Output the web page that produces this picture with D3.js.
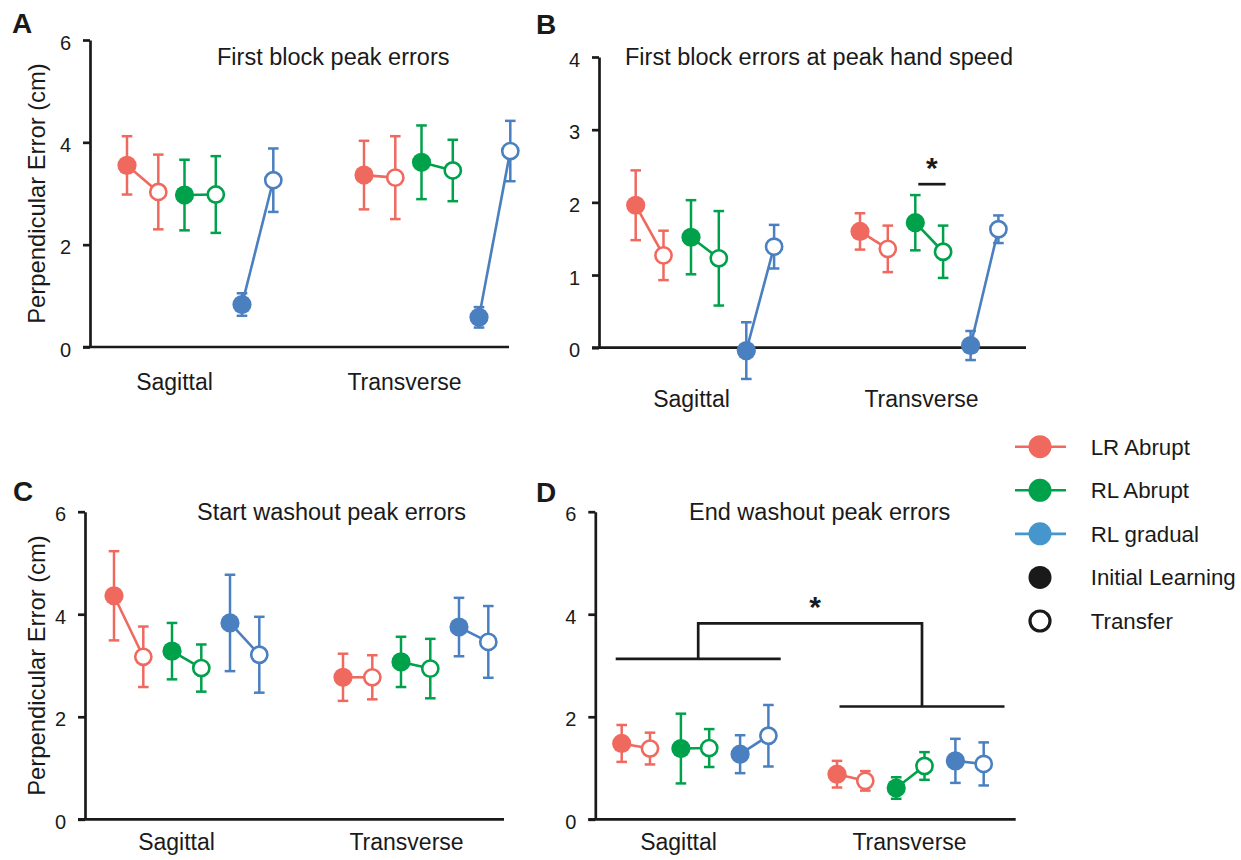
<!DOCTYPE html>
<html>
<head>
<meta charset="utf-8">
<script src="https://cdn.jsdelivr.net/npm/d3@7"></script>
<style>
  body { margin: 0; background: #fff; }
  svg { font-family: "Liberation Sans", Arial, sans-serif; }
</style>
</head>
<body>
<svg width="1241" height="860"></svg>
<script>
const categories = ['Sagittal', 'Transverse'];
const groups = ['LR Abrupt', 'RL Abrupt', 'RL gradual'];
const phases = ['Initial Learning', 'Transfer'];

// order inside each array: Sagittal (LR init, LR transfer, RLA init, RLA transfer, RLG init, RLG transfer), then Transverse
const firstPeakMean = [3.55, 3.03, 2.97, 2.98, 0.83, 3.26, 3.36, 3.31, 3.61, 3.45, 0.58, 3.83];
const firstPeakErr  = [0.57, 0.73, 0.69, 0.75, 0.22, 0.62, 0.67, 0.81, 0.72, 0.60, 0.20, 0.59];

const firstSpeedMean = [1.96, 1.27, 1.52, 1.23, -0.04, 1.39, 1.60, 1.36, 1.72, 1.32, 0.03, 1.63];
const firstSpeedErr  = [0.48, 0.34, 0.51, 0.65, 0.39, 0.30, 0.25, 0.32, 0.38, 0.36, 0.20, 0.19];

const startWashMean = [4.36, 3.17, 3.28, 2.95, 3.83, 3.21, 2.77, 2.77, 3.07, 2.94, 3.75, 3.46];
const startWashErr  = [0.87, 0.59, 0.55, 0.46, 0.94, 0.74, 0.46, 0.43, 0.49, 0.58, 0.57, 0.70];

const endWashMean = [1.48, 1.38, 1.38, 1.39, 1.27, 1.63, 0.88, 0.75, 0.61, 1.04, 1.14, 1.08];
const endWashErr  = [0.36, 0.31, 0.68, 0.37, 0.37, 0.60, 0.26, 0.19, 0.21, 0.27, 0.43, 0.42];

const ticks6 = [0, 2, 4, 6];
const ticks4 = [0, 1, 2, 3, 4];

// significance marks
const sigB = [2.25];              // bar level, RL Abrupt transverse pair
const sigD = [3.13, 2.20, 3.82];  // sagittal level, transverse level, top of bracket

const colors = ['#f0695f', '#00a14b', '#4a7fc0'];
const legendColors = ['#f0695f', '#00a14b', '#4596cc'];

const svg = d3.select('svg');
svg.append('rect').attr('width', 1241).attr('height', 860).attr('fill', '#fff');

const INK = '#1a1a1a';
const color = d3.scaleOrdinal().domain(groups).range(colors);

const panels = [
  { letter: 'A', lx: 12, ly: 33, title: 'First block peak errors', tx: 217, ty: 65,
    mean: firstPeakMean, err: firstPeakErr, yMax: 6, ticks: ticks6,
    left: 90, right: 509, top: 40, bottom: 347,
    cat: [127, 364], pairStep: 57.5, inPair: 31.3, labels: [174, 404], labelY: 43, ylabel: true },
  { letter: 'B', lx: 536, ly: 34, title: 'First block errors at peak hand speed', tx: 625, ty: 65,
    mean: firstSpeedMean, err: firstSpeedErr, yMax: 4, ticks: ticks4,
    left: 599, right: 1026, top: 57, bottom: 347.7,
    cat: [635.7, 860], pairStep: 55.3, inPair: 27.8, labels: [691, 921], labelY: 59, ylabel: false },
  { letter: 'C', lx: 13, ly: 501, title: 'Start washout peak errors', tx: 197, ty: 520,
    mean: startWashMean, err: startWashErr, yMax: 6, ticks: ticks6,
    left: 85, right: 504, top: 511.7, bottom: 819.3,
    cat: [114, 343], pairStep: 58, inPair: 29.3, labels: [176, 406], labelY: 31, ylabel: true },
  { letter: 'D', lx: 536, ly: 502, title: 'End washout peak errors', tx: 689, ty: 520,
    mean: endWashMean, err: endWashErr, yMax: 6, ticks: ticks6,
    left: 595.3, right: 1015.7, top: 511.7, bottom: 819.3,
    cat: [621.7, 837], pairStep: 59.2, inPair: 28.3, labels: [678, 909], labelY: 31, ylabel: false }
];

panels.forEach(function(P) {
  const g = svg.append('g');

  const y = d3.scaleLinear().domain([0, P.yMax]).range([P.bottom, P.top]);
  const xCat = d3.scalePoint().domain(categories).range(P.cat);
  const xGroup = d3.scalePoint().domain(groups).range([0, 2 * P.pairStep]);
  const xPhase = d3.scalePoint().domain(phases).range([0, P.inPair]);
  const x = (c, gr, ph) => xCat(c) + xGroup(gr) + xPhase(ph);

  // rows built from arrays
  const rows = [];
  categories.forEach((c, ci) => groups.forEach((gr, gi) => phases.forEach((ph, pi) => {
    const k = ci * 6 + gi * 2 + pi;
    rows.push({ c: c, g: gr, p: ph, pi: pi, mean: P.mean[k], err: P.err[k] });
  })));

  // panel letter and title
  g.append('text').text(P.letter).attr('x', P.lx).attr('y', P.ly)
    .attr('font-size', 28).attr('font-weight', 'bold').attr('fill', INK);
  g.append('text').text(P.title).attr('x', P.tx).attr('y', P.ty)
    .attr('font-size', 23.5).attr('fill', INK);

  // y axis
  const yAxis = g.append('g').attr('transform', `translate(${P.left},0)`)
    .call(d3.axisLeft(y).tickValues(P.ticks).tickFormat(d3.format('d')).tickSize(7).tickSizeOuter(0).tickPadding(12));
  yAxis.select('.domain').attr('stroke', INK).attr('stroke-width', 2.7);
  yAxis.selectAll('.tick line').attr('stroke', INK).attr('stroke-width', 2.7);
  yAxis.selectAll('.tick text').attr('font-size', 20).attr('fill', INK).attr('font-family', null).attr('dy', '0.45em');

  // x axis line and category labels
  g.append('line').attr('x1', P.left - 7).attr('x2', P.right)
    .attr('y1', y(0)).attr('y2', y(0)).attr('stroke', INK).attr('stroke-width', 2.7);
  const xLab = d3.scalePoint().domain(categories).range(P.labels);
  const xAxis = g.append('g').attr('transform', `translate(0,${y(0)})`)
    .call(d3.axisBottom(xLab).tickSize(0));
  xAxis.select('.domain').remove();
  xAxis.selectAll('.tick text').attr('font-size', 23).attr('fill', INK).attr('font-family', null)
    .attr('y', P.labelY).attr('dy', 0);

  if (P.ylabel) {
    g.append('text').text('Perpendicular Error (cm)')
      .attr('transform', `translate(45,${(P.top + P.bottom) / 2}) rotate(-90)`)
      .attr('text-anchor', 'middle').attr('font-size', 23.8).attr('fill', INK);
  }

  // connecting lines per group pair
  const pairs = d3.groups(rows, d => d.c + '|' + d.g);
  pairs.forEach(([key, pr]) => {
    g.append('line')
      .attr('x1', x(pr[0].c, pr[0].g, pr[0].p)).attr('y1', y(pr[0].mean))
      .attr('x2', x(pr[1].c, pr[1].g, pr[1].p)).attr('y2', y(pr[1].mean))
      .attr('stroke', color(pr[0].g)).attr('stroke-width', 2.6);
  });

  // error bars
  const eb = g.selectAll('.eb').data(rows).join('g').attr('class', 'eb')
    .attr('stroke', d => color(d.g)).attr('stroke-width', 2.5);
  eb.append('line')
    .attr('x1', d => x(d.c, d.g, d.p)).attr('x2', d => x(d.c, d.g, d.p))
    .attr('y1', d => y(d.mean + d.err)).attr('y2', d => y(d.mean - d.err));
  [1, -1].forEach(s => {
    eb.append('line')
      .attr('x1', d => x(d.c, d.g, d.p) - 5.3).attr('x2', d => x(d.c, d.g, d.p) + 5.3)
      .attr('y1', d => y(d.mean + s * d.err)).attr('y2', d => y(d.mean + s * d.err));
  });

  // markers
  g.selectAll('.mk').data(rows).join('circle').attr('class', 'mk')
    .attr('cx', d => x(d.c, d.g, d.p)).attr('cy', d => y(d.mean))
    .attr('r', d => d.pi === 0 ? 9.6 : 8.1)
    .attr('fill', d => d.pi === 0 ? color(d.g) : '#fff')
    .attr('stroke', d => color(d.g))
    .attr('stroke-width', d => d.pi === 0 ? 0 : 2.6);

  // significance
  if (P.letter === 'B') {
    const x1 = x('Transverse', 'RL Abrupt', 'Initial Learning') + 3;
    const x2 = x('Transverse', 'RL Abrupt', 'Transfer') + 2.5;
    g.append('line').attr('x1', x1).attr('x2', x2).attr('y1', y(sigB[0])).attr('y2', y(sigB[0]))
      .attr('stroke', INK).attr('stroke-width', 2.7);
    g.append('text').text('*').attr('x', (x1 + x2) / 2).attr('y', y(sigB[0]) - 6)
      .attr('text-anchor', 'middle').attr('font-size', 30).attr('font-weight', 'bold').attr('fill', INK);
  }
  if (P.letter === 'D') {
    const l1 = xCat('Sagittal') - 6, l2 = xCat('Sagittal') + 159;
    const r1 = xCat('Transverse') + 2.5, r2 = xCat('Transverse') + 167.5;
    const lm = (l1 + l2) / 2, rm = (r1 + r2) / 2;
    const br = d3.path();
    br.moveTo(l1, y(sigD[0])); br.lineTo(l2, y(sigD[0]));
    br.moveTo(r1, y(sigD[1])); br.lineTo(r2, y(sigD[1]));
    br.moveTo(lm, y(sigD[0])); br.lineTo(lm, y(sigD[2])); br.lineTo(rm, y(sigD[2])); br.lineTo(rm, y(sigD[1]));
    g.append('path').attr('d', br.toString()).attr('fill', 'none')
      .attr('stroke', INK).attr('stroke-width', 2.7);
    g.append('text').text('*').attr('x', 815).attr('y', y(sigD[2]) - 6)
      .attr('text-anchor', 'middle').attr('font-size', 30).attr('font-weight', 'bold').attr('fill', INK);
  }
});

// legend
const legendRows = groups.map((d, i) => ({ label: d, kind: 'group', color: legendColors[i] }))
  .concat(phases.map((d, i) => ({ label: d, kind: i === 0 ? 'filled' : 'open' })));
const ly = d3.scalePoint().domain(legendRows.map(d => d.label)).range([446.7, 621]);
const lg = svg.append('g').selectAll('g').data(legendRows).join('g')
  .attr('transform', d => `translate(1040,${ly(d.label)})`);
lg.filter(d => d.kind === 'group').append('line')
  .attr('x1', -25).attr('x2', 26).attr('stroke', d => d.color).attr('stroke-width', 2.6);
lg.append('circle')
  .attr('r', d => d.kind === 'open' ? 10 : 11.5)
  .attr('fill', d => d.kind === 'group' ? d.color : d.kind === 'filled' ? '#1a1a1a' : '#fff')
  .attr('stroke', d => d.kind === 'open' ? '#1a1a1a' : 'none')
  .attr('stroke-width', 3.2);
lg.append('text').text(d => d.label).attr('x', 50.7).attr('y', 8)
  .attr('font-size', 22.3).attr('fill', INK);
</script>
</body>
</html>
